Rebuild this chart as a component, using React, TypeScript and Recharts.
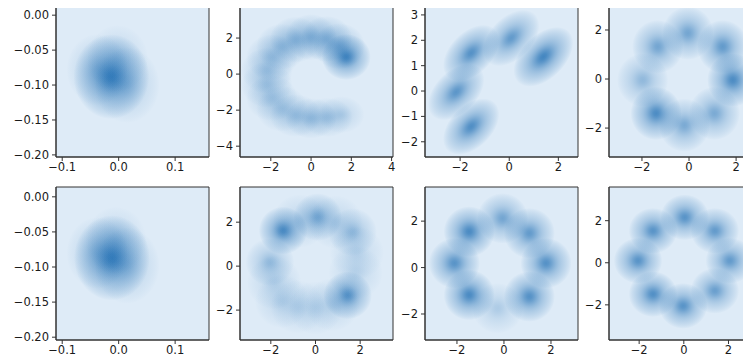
import React from 'react';
import { ScatterChart, Scatter, XAxis, YAxis, CartesianGrid, ReferenceArea } from 'recharts';

// density blobs: centre (x, y), spread (sx, sy), weight w, tilt rot (deg)
const blobsTopLeft = [
  { x: -0.013, y: -0.088, sx: 0.021, sy: 0.019, w: 0.95 },
  { x: 0.015, y: -0.1, sx: 0.018, sy: 0.017, w: 0.3 },
  { x: -0.038, y: -0.078, sx: 0.017, sy: 0.016, w: 0.28 },
  { x: -0.002, y: -0.062, sx: 0.017, sy: 0.015, w: 0.22 },
];

const blobsArc = [
  { x: 1.75, y: 0.95, sx: 0.38, sy: 0.4, w: 0.9 },
  { x: 1.4, y: 1.55, sx: 0.4, sy: 0.4, w: 0.42 },
  { x: 0.77, y: 1.95, sx: 0.4, sy: 0.4, w: 0.42 },
  { x: 0.0, y: 2.05, sx: 0.4, sy: 0.4, w: 0.42 },
  { x: -0.77, y: 1.91, sx: 0.4, sy: 0.4, w: 0.4 },
  { x: -1.45, y: 1.52, sx: 0.4, sy: 0.4, w: 0.36 },
  { x: -1.95, y: 0.93, sx: 0.4, sy: 0.4, w: 0.32 },
  { x: -2.2, y: 0.19, sx: 0.4, sy: 0.4, w: 0.3 },
  { x: -2.2, y: -0.59, sx: 0.4, sy: 0.4, w: 0.28 },
  { x: -1.95, y: -1.33, sx: 0.4, sy: 0.4, w: 0.28 },
  { x: -1.45, y: -1.92, sx: 0.4, sy: 0.4, w: 0.28 },
  { x: -0.77, y: -2.3, sx: 0.4, sy: 0.37, w: 0.31 },
  { x: 0.0, y: -2.45, sx: 0.4, sy: 0.35, w: 0.34 },
  { x: 0.8, y: -2.4, sx: 0.4, sy: 0.34, w: 0.3 },
  { x: 1.5, y: -2.25, sx: 0.36, sy: 0.32, w: 0.24 },
];

const blobsFive = [
  { x: 0.08, y: 2.09, sx: 0.43, sy: 0.26, w: 0.72, rot: 45 },
  { x: 1.39, y: 1.35, sx: 0.46, sy: 0.27, w: 0.9, rot: 45 },
  { x: -1.55, y: 1.5, sx: 0.43, sy: 0.26, w: 0.8, rot: 45 },
  { x: -2.16, y: -0.04, sx: 0.43, sy: 0.26, w: 0.76, rot: 45 },
  { x: -1.55, y: -1.4, sx: 0.43, sy: 0.26, w: 0.83, rot: 45 },
];

const blobsEightA = [
  { x: -0.05, y: 1.87, sx: 0.34, sy: 0.34, w: 0.62 },
  { x: 1.43, y: 1.32, sx: 0.34, sy: 0.34, w: 0.72 },
  { x: 1.86, y: -0.04, sx: 0.34, sy: 0.34, w: 0.85 },
  { x: 1.08, y: -1.4, sx: 0.34, sy: 0.34, w: 0.58 },
  { x: -0.2, y: -1.88, sx: 0.34, sy: 0.34, w: 0.58 },
  { x: -1.4, y: -1.4, sx: 0.34, sy: 0.34, w: 0.85 },
  { x: -1.97, y: -0.04, sx: 0.34, sy: 0.34, w: 0.45 },
  { x: -1.33, y: 1.32, sx: 0.34, sy: 0.34, w: 0.62 },
];

const blobsBottomLeft = [
  { x: -0.012, y: -0.087, sx: 0.021, sy: 0.019, w: 0.95 },
  { x: 0.015, y: -0.098, sx: 0.018, sy: 0.017, w: 0.3 },
  { x: -0.038, y: -0.08, sx: 0.017, sy: 0.016, w: 0.28 },
  { x: -0.005, y: -0.062, sx: 0.017, sy: 0.015, w: 0.22 },
];

const blobsPentagon = [
  { x: 0.1, y: 2.23, sx: 0.34, sy: 0.34, w: 0.58 },
  { x: 1.66, y: 1.55, sx: 0.34, sy: 0.34, w: 0.42 },
  { x: -1.45, y: 1.62, sx: 0.34, sy: 0.34, w: 0.86 },
  { x: -2.04, y: 0.18, sx: 0.34, sy: 0.34, w: 0.42 },
  { x: 1.44, y: -1.33, sx: 0.34, sy: 0.34, w: 0.78 },
  { x: -0.7, y: 2.05, sx: 0.38, sy: 0.38, w: 0.22 },
  { x: 0.9, y: 2.0, sx: 0.38, sy: 0.38, w: 0.22 },
  { x: 1.85, y: 0.6, sx: 0.38, sy: 0.38, w: 0.2 },
  { x: 1.8, y: -0.3, sx: 0.38, sy: 0.38, w: 0.2 },
  { x: -1.85, y: -0.75, sx: 0.38, sy: 0.38, w: 0.22 },
  { x: -1.5, y: -1.6, sx: 0.38, sy: 0.38, w: 0.22 },
  { x: -0.8, y: -1.85, sx: 0.38, sy: 0.38, w: 0.2 },
  { x: 0.0, y: -1.9, sx: 0.38, sy: 0.38, w: 0.2 },
  { x: 0.75, y: -1.75, sx: 0.38, sy: 0.38, w: 0.2 },
];

const blobsEightB = [
  { x: -0.06, y: 2.12, sx: 0.34, sy: 0.34, w: 0.62 },
  { x: 1.08, y: 1.48, sx: 0.34, sy: 0.34, w: 0.72 },
  { x: 1.79, y: 0.19, sx: 0.34, sy: 0.34, w: 0.8 },
  { x: 1.08, y: -1.25, sx: 0.34, sy: 0.34, w: 0.8 },
  { x: -0.27, y: -1.75, sx: 0.34, sy: 0.34, w: 0.28 },
  { x: -1.48, y: -1.18, sx: 0.34, sy: 0.34, w: 0.86 },
  { x: -2.11, y: 0.19, sx: 0.34, sy: 0.34, w: 0.78 },
  { x: -1.48, y: 1.55, sx: 0.34, sy: 0.34, w: 0.86 },
];

const blobsEightC = [
  { x: 0.04, y: 2.16, sx: 0.34, sy: 0.34, w: 0.78 },
  { x: 1.39, y: 1.52, sx: 0.34, sy: 0.34, w: 0.72 },
  { x: 2.06, y: 0.1, sx: 0.34, sy: 0.34, w: 0.72 },
  { x: 1.39, y: -1.33, sx: 0.34, sy: 0.34, w: 0.68 },
  { x: -0.03, y: -2.05, sx: 0.34, sy: 0.34, w: 0.78 },
  { x: -1.38, y: -1.49, sx: 0.34, sy: 0.34, w: 0.82 },
  { x: -2.05, y: 0.1, sx: 0.34, sy: 0.34, w: 0.78 },
  { x: -1.38, y: 1.52, sx: 0.34, sy: 0.34, w: 0.78 },
];

const ticksSmallX = [-0.1, 0, 0.1];
const ticksSmallY = [0, -0.05, -0.1, -0.15, -0.2];
const ticksArcX = [-2, 0, 2, 4];
const ticksArcY = [2, 0, -2, -4];
const ticksFiveY = [3, 2, 1, 0, -1, -2];
const ticksRing = [-2, 0, 2];

const PLOT = 153;
const AXIS_W = 60;
const PAD_TOP = 6;
const PAD_RIGHT = 10;
const AXIS_H = 24;
const SPREAD = 3.2;

const panels = [
  { blobs: blobsTopLeft, xd: [-0.111, 0.16], yd: [-0.203, 0.016], xt: ticksSmallX, yt: ticksSmallY, xf: 1, yf: 2, left: 56, top: 4 },
  { blobs: blobsArc, xd: [-3.53, 4.07], yd: [-4.6, 3.89], xt: ticksArcX, yt: ticksArcY, xf: 0, yf: 0, left: 240, top: 4 },
  { blobs: blobsFive, xd: [-3.43, 2.8], yd: [-2.6, 3.43], xt: ticksRing, yt: ticksFiveY, xf: 0, yf: 0, left: 425, top: 4 },
  { blobs: blobsEightA, xd: [-3.4, 3.1], yd: [-3.18, 3.06], xt: ticksRing, yt: ticksRing, xf: 0, yf: 0, left: 609, top: 4 },
  { blobs: blobsBottomLeft, xd: [-0.111, 0.16], yd: [-0.204, 0.014], xt: ticksSmallX, yt: ticksSmallY, xf: 1, yf: 2, left: 56, top: 187 },
  { blobs: blobsPentagon, xd: [-3.38, 3.47], yd: [-3.36, 3.6], xt: ticksRing, yt: ticksRing, xf: 0, yf: 0, left: 240, top: 187 },
  { blobs: blobsEightB, xd: [-3.36, 3.15], yd: [-3.12, 3.47], xt: ticksRing, yt: ticksRing, xf: 0, yf: 0, left: 425, top: 187 },
  { blobs: blobsEightC, xd: [-3.35, 3.5], yd: [-3.67, 3.6], xt: ticksRing, yt: ticksRing, xf: 0, yf: 0, left: 609, top: 187 },
];

const fmt = (dec: number) => (v: number) => v.toFixed(dec).replace('-', '\u2212');

const tickStyle = { fill: '#1a1a1a', fontSize: 11.5, fontFamily: 'DejaVu Sans' };

// soft falloff with a visible outer halo, like the lowest filled contour levels
const kdeStops = [
  [0, 0.9], [10, 0.85], [20, 0.74], [30, 0.61], [40, 0.49], [50, 0.39],
  [60, 0.31], [70, 0.24], [80, 0.17], [88, 0.11], [95, 0.05], [100, 0],
];

function Panel({ p }: { p: any }) {
  const kx = PLOT / (p.xd[1] - p.xd[0]);
  const ky = PLOT / (p.yd[1] - p.yd[0]);
  const shape = (props: any) => {
    const { cx, cy, payload } = props;
    const rx = payload.sx * SPREAD * kx;
    const ry = payload.sy * SPREAD * ky;
    return (
      <ellipse
        cx={cx}
        cy={cy}
        rx={rx}
        ry={ry}
        fill="url(#kde)"
        opacity={payload.w}
        transform={payload.rot ? `rotate(${-payload.rot} ${cx} ${cy})` : undefined}
      />
    );
  };
  return (
    <div style={{ position: 'absolute', left: p.left - AXIS_W, top: p.top - PAD_TOP }}>
      <ScatterChart
        width={AXIS_W + PLOT + PAD_RIGHT}
        height={PAD_TOP + PLOT + AXIS_H}
        margin={{ top: PAD_TOP, right: PAD_RIGHT, bottom: 0, left: 0 }}
      >
        <CartesianGrid horizontal={false} vertical={false} fill="#deebf7" />
        <XAxis
          type="number"
          dataKey="x"
          domain={p.xd}
          ticks={p.xt}
          allowDataOverflow
          height={AXIS_H}
          tickFormatter={fmt(p.xf)}
          tick={tickStyle}
          tickSize={4}
          tickMargin={2}
          stroke="#333"
        />
        <YAxis
          type="number"
          dataKey="y"
          domain={p.yd}
          ticks={p.yt}
          allowDataOverflow
          width={AXIS_W}
          tickFormatter={fmt(p.yf)}
          tick={tickStyle}
          tickSize={4}
          tickMargin={3}
          stroke="#333"
        />
        <Scatter data={p.blobs} shape={shape} isAnimationActive={false} />
        <ReferenceArea
          x1={p.xd[0]}
          x2={p.xd[1]}
          y1={p.yd[0]}
          y2={p.yd[1]}
          fill="none"
          stroke="#333"
          strokeWidth={1}
          ifOverflow="visible"
        />
      </ScatterChart>
    </div>
  );
}

export default function App() {
  return (
    <div style={{ position: 'relative', left: -8, top: -8, width: 751, height: 364, overflow: 'hidden', background: '#fff' }}>
      <svg width={0} height={0} style={{ position: 'absolute' }}>
        <defs>
          <radialGradient id="kde" cx="50%" cy="50%" r="50%">
            {kdeStops.map(([o, a]) => (
              <stop key={o} offset={`${o}%`} stopColor="#1f6eb3" stopOpacity={a} />
            ))}
          </radialGradient>
        </defs>
      </svg>
      {panels.map((p, i) => (
        <Panel key={i} p={p} />
      ))}
    </div>
  );
}
